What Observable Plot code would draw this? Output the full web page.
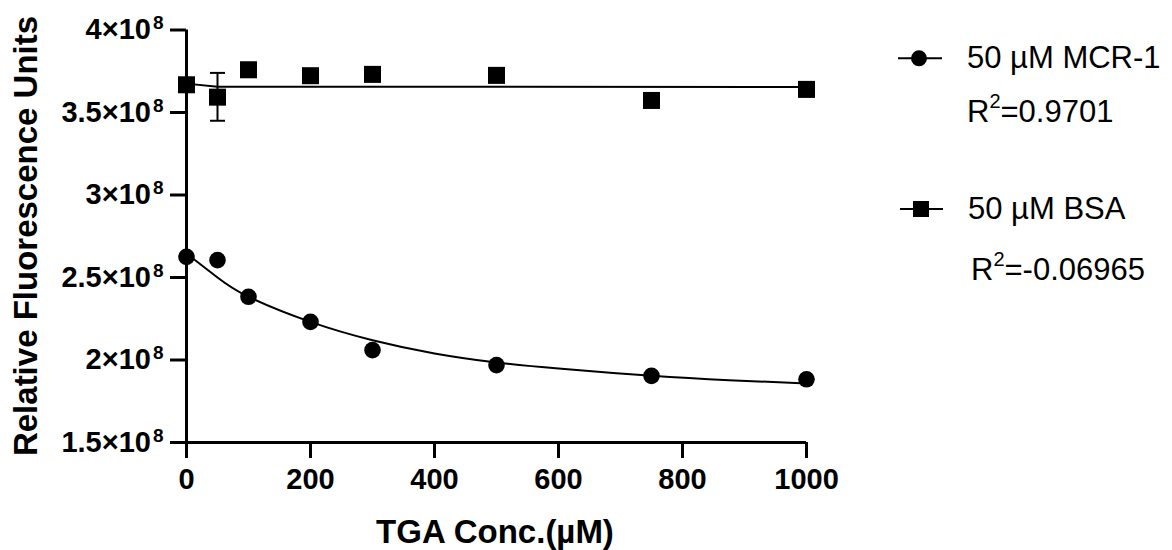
<!DOCTYPE html>
<html>
<head>
<meta charset="utf-8">
<script src="https://cdn.jsdelivr.net/npm/d3@7"></script>
<script src="https://cdn.jsdelivr.net/npm/@observablehq/plot@0.6"></script>
<style>
  html, body { margin: 0; padding: 0; background: #fff; }
  svg { display: block; }
</style>
</head>
<body>
<div id="chart"></div>
<script>
// ---------- data ----------
const conc = [0, 50, 100, 200, 300, 500, 750, 1000];
const mcrValues = [2.625e8, 2.605e8, 2.383e8, 2.231e8, 2.060e8, 1.969e8, 1.904e8, 1.883e8];
const bsaValues = [3.668e8, 3.593e8, 3.759e8, 3.723e8, 3.731e8, 3.725e8, 3.573e8, 3.640e8];

const bsaErrConc = [50];
const bsaErrLow = [3.45e8];
const bsaErrHigh = [3.74e8];

// fitted curves
const mcrFitConc = [0, 50, 100, 200, 300, 400, 500, 600, 750, 875, 1000];
const mcrFitValues = [2.645e8, 2.50e8, 2.383e8, 2.231e8, 2.12e8, 2.04e8, 1.985e8, 1.948e8, 1.905e8, 1.878e8, 1.857e8];
const bsaFitConc = [0, 50, 1000];
const bsaFitValues = [3.675e8, 3.656e8, 3.655e8];

const xTicks = [0, 200, 400, 600, 800, 1000];
const yTicks = [1.5e8, 2e8, 2.5e8, 3e8, 3.5e8, 4e8];
const yExponent = "8";

const seriesNames = ["50 µM MCR-1", "50 µM BSA"];
const rSquared = ["0.9701", "-0.06965"];

const xLabel = "TGA Conc.(µM)";
const yLabel = "Relative Fluorescence Units";

// ---------- tables ----------
const mcr = conc.map((c, i) => ({x: c, y: mcrValues[i]}));
const bsa = conc.map((c, i) => ({x: c, y: bsaValues[i]}));
const err = bsaErrConc.map((c, i) => ({x: c, lo: bsaErrLow[i], hi: bsaErrHigh[i]}));
const caps = err.flatMap(d => [{x: d.x, y: d.lo}, {x: d.x, y: d.hi}]);
const mcrFit = mcrFitConc.map((c, i) => ({x: c, y: mcrFitValues[i]}));
const bsaFit = bsaFitConc.map((c, i) => ({x: c, y: bsaFitValues[i]}));

const capSymbol = {
  draw(ctx) { ctx.moveTo(-7.5, 0); ctx.lineTo(7.5, 0); }
};

const FONT = "'Liberation Sans', Arial, Helvetica, sans-serif";

const svg = Plot.plot({
  width: 1172,
  height: 550,
  marginLeft: 186,
  marginRight: 366,
  marginTop: 29.5,
  marginBottom: 108,
  style: {fontFamily: FONT, background: "#fff", color: "#000", overflow: "visible"},
  x: {domain: [0, 1000]},
  y: {domain: [1.5e8, 4e8]},
  marks: [
    Plot.axisX({ticks: xTicks, tickSize: 16, tickPadding: 10, strokeWidth: 3, fontSize: 29, label: null, tickFormat: d => String(d)}),
    Plot.axisY({ticks: yTicks, tickSize: 16, tickPadding: 7, strokeWidth: 3, fontSize: 29, label: null, tickFormat: d => `${d / 1e8}×10`}),
    Plot.ruleX([0], {y1: 1.5e8, y2: 4e8, strokeWidth: 3}),
    Plot.ruleY([1.5e8], {x1: 0, x2: 1000, strokeWidth: 3}),
    Plot.line(mcrFit, {x: "x", y: "y", curve: "natural", stroke: "#000", strokeWidth: 2}),
    Plot.line(bsaFit, {x: "x", y: "y", curve: "linear", stroke: "#000", strokeWidth: 2}),
    Plot.ruleX(err, {x: "x", y1: "lo", y2: "hi", stroke: "#000", strokeWidth: 2}),
    Plot.dot(caps, {x: "x", y: "y", symbol: capSymbol, fill: "none", stroke: "#000", strokeWidth: 2}),
    Plot.dot(mcr, {x: "x", y: "y", r: 8.3, symbol: "circle", fill: "#000"}),
    Plot.dot(bsa, {x: "x", y: "y", r: 9.6, symbol: "square", fill: "#000"})
  ]
});

document.getElementById("chart").appendChild(svg);
const s = d3.select(svg);

// thicker tick marks
s.selectAll('[aria-label="x-axis tick"], [aria-label="y-axis tick"]')
  .attr("stroke-width", 3);
s.selectAll('[aria-label="x-axis tick"] *, [aria-label="y-axis tick"] *')
  .attr("stroke-width", 3);

// bold tick labels
s.selectAll('[aria-label="x-axis tick label"] text, [aria-label="y-axis tick label"] text')
  .attr("font-weight", "bold");
// superscript exponent on y tick labels
s.selectAll('[aria-label="y-axis tick label"] text').each(function () {
  d3.select(this).append("tspan")
    .attr("dy", "-10").attr("dx", "2")
    .attr("font-size", "19")
    .text(yExponent);
});

// axis titles
s.append("text")
  .attr("transform", "translate(37,236) rotate(-90)")
  .attr("text-anchor", "middle")
  .attr("font-family", FONT).attr("font-weight", "bold").attr("font-size", 33)
  .text(yLabel);
s.append("text")
  .attr("x", 495).attr("y", 543)
  .attr("text-anchor", "middle")
  .attr("font-family", FONT).attr("font-weight", "bold").attr("font-size", 33)
  .text(xLabel);

// legend
const leg = s.append("g").attr("font-family", FONT).attr("font-size", 31).attr("text-anchor", "start");
const legRows = [
  {lineY: 58.3, x0: 898, x1: 942, mx: 919, textY: 67.7, textX: 967, rX: 967, rY: 121.7, shape: "circle"},
  {lineY: 209, x0: 900, x1: 943, mx: 921, textY: 219, textX: 968, rX: 971, rY: 280, shape: "square"}
];
legRows.forEach((r, i) => {
  leg.append("line").attr("x1", r.x0).attr("x2", r.x1).attr("y1", r.lineY).attr("y2", r.lineY)
    .attr("stroke", "#000").attr("stroke-width", 2);
  if (r.shape === "circle") {
    leg.append("circle").attr("cx", r.mx).attr("cy", r.lineY).attr("r", 8).attr("fill", "#000");
  } else {
    leg.append("rect").attr("x", r.mx - 8).attr("y", r.lineY - 8).attr("width", 16).attr("height", 16).attr("fill", "#000");
  }
  leg.append("text").attr("x", r.textX).attr("y", r.textY).attr("text-anchor", "start").text(seriesNames[i]);
  const t = leg.append("text").attr("x", r.rX).attr("y", r.rY).attr("text-anchor", "start");
  t.append("tspan").text("R");
  t.append("tspan").attr("dy", -14).attr("font-size", 20).text("2");
  t.append("tspan").attr("dy", 14).text("=" + rSquared[i]);
});
</script>
</body>
</html>
